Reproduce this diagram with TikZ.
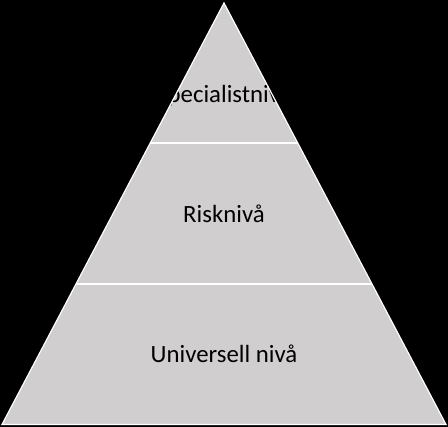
\documentclass[tikz,border=0pt]{standalone}
\usepackage{fontspec}
\setmainfont{Carlito}
\usepackage{tikz}
\usetikzlibrary{calc}
\definecolor{pyrfill}{HTML}{D0CECE}
\definecolor{pyrink}{HTML}{000000}

\begin{document}
\begin{tikzpicture}[x=1pt,y=1pt,line join=miter,
  font=\fontsize{24.8}{30}\selectfont,text=pyrink,
  level/.style={inner sep=0pt,anchor=center},
  rim/.style={white,line width=2pt}]
\path[use as bounding box] (0,0) rectangle (448,427);
\fill[black] (0,0) rectangle (448,427);
% pyramiden: spets + bas, tre lika hoega nivaaer
\coordinate (top) at (224,424);
\coordinate (bl) at (2,2.5);
\coordinate (br) at (446,2.5);
\fill[pyrfill] (top)--(bl)--(br)--cycle;
\begin{scope}
  \clip (top)--(bl)--(br)--cycle;
  \node[level] (spec) at (224,331) {Specialistnivå};
  \node[level] (risk) at (224,213) {Risknivå};
  \node[level] (univ) at (224,73) {Universell nivå};
\end{scope}
\draw[rim] ($(bl)!1/3!(top)$)--($(br)!1/3!(top)$);
\draw[rim] ($(bl)!2/3!(top)$)--($(br)!2/3!(top)$);
\draw[white,line width=1.2pt] (top)--(bl)--(br)--cycle;
\end{tikzpicture}
\end{document}
